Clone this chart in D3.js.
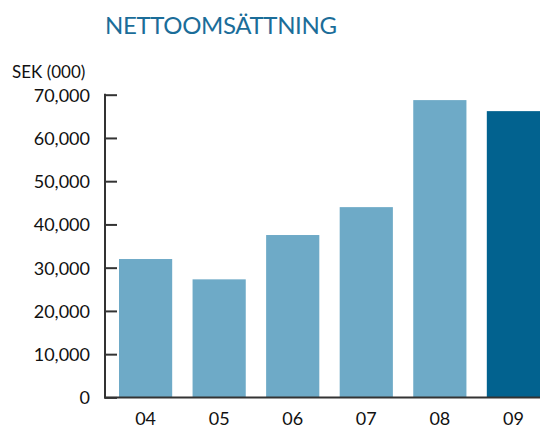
<!DOCTYPE html>
<html>
<head>
<meta charset="utf-8">
<script src="https://cdn.jsdelivr.net/npm/d3@7"></script>
<style>
  body { margin: 0; background: #fff; }
  svg { display: block; font-family: Lato, "Open Sans", sans-serif; }
</style>
</head>
<body>
<div class="chart"></div>
<script>
// DATA ------------------------------------
const years = ["04", "05", "06", "07", "08", "09"];
const sales = [32000, 27300, 37550, 44000, 68750, 66200];
const yTicks = [0, 10000, 20000, 30000, 40000, 50000, 60000, 70000];

const title = "NETTOOMSÄTTNING";
const unitLabel = "SEK (000)";

// CHART INIT ------------------------------
var width = 542,
    height = 428;

const svg = d3.select(".chart").append("svg")
    .attr("width", width)
    .attr("height", height);

const xScale = d3.scaleBand()
    .domain(years)
    .range([119, 540])
    .paddingInner(0.277)
    .paddingOuter(0);

const yScale = d3.scaleLinear()
    .domain([0, 70000])
    .range([397.4, 94.7]);

// title + unit
svg.append("text")
    .attr("x", 105)
    .attr("y", 33.5)
    .attr("fill", "#1b6d99")
    .attr("font-size", 24)
    .attr("textLength", 232)
    .attr("lengthAdjust", "spacing")
    .text(title);

svg.append("text")
    .attr("x", 12)
    .attr("y", 77.5)
    .attr("fill", "#111")
    .attr("font-size", 17)
    .text(unitLabel);

// bars
svg.selectAll(".bar")
    .data(years)
    .enter()
    .append("rect")
    .attr("class", "bar")
    .attr("x", d => xScale(d))
    .attr("y", (d, i) => yScale(sales[i]))
    .attr("width", xScale.bandwidth())
    .attr("height", (d, i) => yScale(0) - yScale(sales[i]))
    .attr("fill", (d, i) => i === years.length - 1 ? "#02628f" : "#6eaac7");

// y axis, ticks point inward
const yAxis = svg.append("g")
    .attr("class", "axis y-axis")
    .attr("transform", "translate(105,0)")
    .call(d3.axisLeft(yScale)
        .tickValues(yTicks)
        .tickFormat(d3.format(","))
        .tickSizeInner(-12)
        .tickSizeOuter(0)
        .tickPadding(15));

yAxis.select(".domain").remove();
yAxis.selectAll(".tick line")
    .attr("stroke", "#333")
    .attr("stroke-width", 2);
yAxis.selectAll(".tick text")
    .attr("fill", "#111")
    .attr("font-size", 18)
    .attr("font-family", "Lato, sans-serif")
    .attr("dy", "0.36em");

// axis lines
svg.append("line")
    .attr("x1", 105).attr("x2", 105)
    .attr("y1", yScale(70000) - 1).attr("y2", yScale(0) + 1)
    .attr("stroke", "#333")
    .attr("stroke-width", 2);

svg.append("line")
    .attr("x1", 104).attr("x2", 540)
    .attr("y1", yScale(0)).attr("y2", yScale(0))
    .attr("stroke", "#333")
    .attr("stroke-width", 2);

// x labels
const xAxis = svg.append("g")
    .attr("class", "axis x-axis")
    .attr("transform", "translate(0,425)")
    .call(d3.axisBottom(xScale).tickSize(0).tickPadding(0));

xAxis.select(".domain").remove();
xAxis.selectAll(".tick text")
    .attr("dy", 0)
    .attr("fill", "#111")
    .attr("font-size", 18)
    .attr("font-family", "Lato, sans-serif");
</script>
</body>
</html>
